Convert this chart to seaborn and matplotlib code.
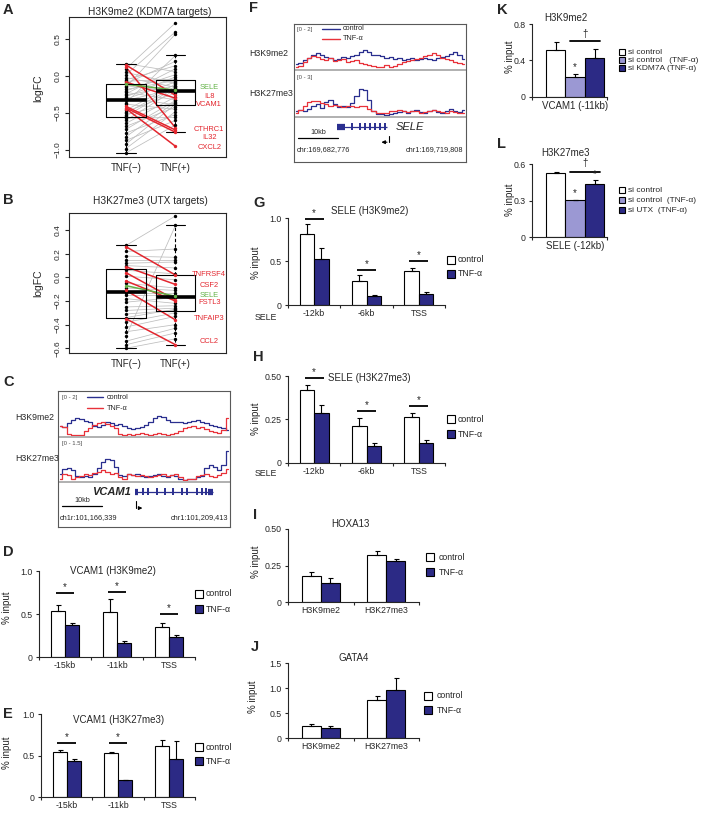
import numpy as np
import pandas as pd
import matplotlib.pyplot as plt
import matplotlib.patches as mpatches
from matplotlib.lines import Line2D
import seaborn as sns

sns.set_style("ticks")
plt.rcParams["font.family"] = ["Liberation Sans", "DejaVu Sans"]
plt.rcParams["axes.linewidth"] = 0.8

# ---------------- data ----------------
# A: H3K9me2 logFC of KDM7A targets, paired TNF(-) -> TNF(+)
a_gray_minus = [0.17, 0.10, 0.05, 0.02, -0.02, -0.05, -0.07, -0.10, -0.13, -0.15, -0.18, -0.20,
                -0.22, -0.24, -0.26, -0.28, -0.29, -0.31, -0.33, -0.36, -0.38, -0.46, -0.48, -0.50,
                -0.52, -0.54, -0.57, -0.60, -0.64, -0.68, -0.72, -0.77, -0.82, -0.87, -0.92, -0.98, -1.04]
a_gray_plus = [0.06, 0.72, -0.10, 0.60, -0.15, 0.14, -0.04, 0.20, -0.21, 0.57, -0.06, 0.02,
               -0.32, 0.10, -0.13, -0.01, -0.39, -0.08, -0.17, 0.28, -0.45, -0.11, -0.23, -0.14,
               -0.36, -0.16, -0.56, -0.18, -0.28, -0.42, -0.33, -0.52, -0.35, -0.60, -0.38, -0.48, -0.66]
a_red_minus = [0.15, 0.12, -0.08, -0.41, -0.43, -0.44]
a_red_plus = [-0.26, -0.70, -0.30, -0.73, -0.76, -0.95]
a_green_minus = [-0.11]
a_green_plus = [-0.19]
a_labels = ["SELE", "IL8", "VCAM1", "CTHRC1", "IL32", "CXCL2"]
a_label_y = [-0.16, -0.27, -0.39, -0.72, -0.83, -0.96]
a_label_kind = ["green", "red", "red", "red", "red", "red"]

# B: H3K27me3 logFC of UTX targets
b_gray_minus = [0.27, 0.22, 0.18, 0.15, 0.12, 0.10, 0.06, 0.01, -0.05, -0.09, -0.13, -0.15, -0.18,
                -0.21, -0.25, -0.28, -0.31, -0.34, -0.38, -0.42, -0.46, -0.50, -0.54, -0.57, -0.60]
b_gray_plus = [0.52, 0.24, 0.17, 0.15, 0.13, 0.08, 0.03, -0.02, -0.09, -0.11, -0.13, -0.15, -0.22,
               -0.17, -0.24, -0.26, -0.28, -0.27, -0.30, -0.33, -0.40, 0.44, -0.43, -0.47, -0.52]
b_red_minus = [0.26, 0.09, 0.04, -0.03, -0.11, -0.35]
b_red_plus = [0.02, -0.06, -0.19, -0.20, -0.36, -0.57]
b_green_minus = [-0.07]
b_green_plus = [-0.16]
b_labels = ["TNFRSF4", "CSF2", "SELE", "FSTL3", "TNFAIP3", "CCL2"]
b_label_y = [0.025, -0.07, -0.15, -0.215, -0.35, -0.545]
b_label_kind = ["red", "red", "green", "red", "red", "red"]

# C: genome browser, VCAM1 locus (40 bins)
c_k9_ctrl = [0.55, 0.5, 0.7, 0.9, 1.0, 0.95, 0.85, 0.75, 0.55, 0.5, 0.6, 0.75, 0.7, 0.6, 0.65, 0.55,
             0.45, 0.4, 0.45, 0.5, 0.6, 0.75, 1.0, 1.1, 1.05, 0.9, 0.8, 0.75, 0.8, 0.7, 0.75, 0.85,
             0.9, 0.8, 0.7, 0.6, 0.55, 0.5, 0.45, 0.35]
c_k9_tnf = [0.55, 0.5, 0.1, 0.06, 0.05, 0.08, 0.3, 0.45, 0.6, 0.7, 0.75, 0.65, 0.55, 0.45, 0.1, 0.06,
            0.12, 0.08, 0.1, 0.15, 0.1, 0.05, 0.12, 0.18, 0.12, 0.08, 0.1, 0.15, 0.3, 0.45, 0.5, 0.55,
            0.45, 0.5, 0.4, 0.3, 0.2, 0.15, 0.35, 1.0]
c_k27_ctrl = [0.3, 0.5, 0.55, 0.45, 0.2, 0.15, 0.2, 0.15, 0.3, 0.55, 0.8, 0.95, 0.9, 0.6, 0.25, 0.2,
              0.3, 0.25, 0.3, 0.2, 0.15, 0.2, 0.25, 0.3, 0.2, 0.15, 0.25, 0.2, 0.1, 0.05, 0.08, 0.1,
              0.15, 0.2, 0.55, 0.7, 0.6, 0.45, 0.7, 1.3]
c_k27_tnf = [0.1, 0.3, 0.25, 0.1, 0.15, 0.2, 0.3, 0.25, 0.35, 0.4, 0.45, 0.4, 0.3, 0.35, 0.15, 0.1,
             0.3, 0.25, 0.2, 0.25, 0.2, 0.15, 0.2, 0.25, 0.3, 0.2, 0.25, 0.3, 0.15, 0.05, 0.08, 0.1,
             0.2, 0.25, 0.3, 0.2, 0.15, 0.25, 0.35, 0.5]
vcam1_span_kb = (19.25, 38.75)
vcam1_blocks_kb = [(19.25, 20.0), (37.6, 38.75)]
vcam1_exons_kb = [21.2, 22.5, 24.8, 26.8, 28.8, 31.0, 32.3, 34.8, 36.0, 37.0]

# F: genome browser, SELE locus
f_k9_ctrl = [0.3, 0.35, 0.5, 0.6, 0.75, 0.9, 0.8, 0.65, 0.6, 0.5, 0.55, 0.65, 0.6, 0.7, 0.8, 0.95,
             1.05, 0.95, 0.8, 0.75, 0.7, 0.6, 0.65, 0.55, 0.6, 0.5, 0.55, 0.6, 0.5, 0.55, 0.6, 0.55,
             0.5, 0.6, 0.65, 0.7, 0.85, 0.95, 0.8, 0.55]
f_k9_tnf = [0.1, 0.15, 0.4, 0.6, 0.7, 0.65, 0.55, 0.5, 0.6, 0.45, 0.5, 0.55, 0.4, 0.45, 0.5, 0.35,
            0.3, 0.2, 0.15, 0.1, 0.12, 0.2, 0.1, 0.15, 0.3, 0.4, 0.45, 0.5, 0.55, 0.6, 0.7, 0.8,
            0.9, 0.75, 0.6, 0.55, 0.5, 0.4, 0.35, 0.3]
f_k27_ctrl = [0.4, 0.5, 0.45, 0.6, 0.9, 1.0, 0.7, 1.2, 1.35, 1.0, 0.8, 0.9, 0.75, 1.1, 1.7, 2.3,
              2.2, 1.4, 0.4, 0.2, 0.15, 0.1, 0.2, 0.3, 0.35, 0.4, 0.3, 0.45, 0.5, 0.35, 0.3, 0.4,
              0.5, 0.35, 0.3, 0.45, 0.6, 0.4, 0.35, 0.5]
f_k27_tnf = [0.3, 0.5, 0.9, 1.2, 1.3, 1.25, 1.1, 1.0, 0.9, 0.95, 0.85, 0.8, 0.9, 0.85, 0.8, 0.9,
             0.85, 0.6, 0.4, 0.3, 0.25, 0.3, 0.4, 0.45, 0.5, 0.4, 0.35, 0.45, 0.4, 0.3, 0.35, 0.45,
             0.5, 0.4, 0.35, 0.3, 0.4, 0.35, 0.3, 0.25]
sele_span_kb = (9.25, 20.0)
sele_blocks_kb = [(9.25, 11.0)]
sele_exons_kb = [12.5, 14.2, 15.3, 16.3, 17.4, 18.5, 19.6]

# D/E: VCAM1 ChIP-qPCR
vcam_sites = ["-15kb", "-11kb", "TSS"]
d_ctrl, d_ctrl_err = [0.53, 0.52, 0.35], [0.08, 0.16, 0.04]
d_tnf, d_tnf_err = [0.37, 0.16, 0.23], [0.03, 0.03, 0.03]
e_ctrl, e_ctrl_err = [0.54, 0.53, 0.61], [0.03, 0.01, 0.08]
e_tnf, e_tnf_err = [0.43, 0.20, 0.46], [0.03, 0.0, 0.21]

# G/H: SELE ChIP-qPCR
sele_sites = ["-12kb", "-6kb", "TSS"]
g_ctrl, g_ctrl_err = [0.82, 0.28, 0.39], [0.11, 0.06, 0.03]
g_tnf, g_tnf_err = [0.53, 0.10, 0.13], [0.12, 0.015, 0.02]
h_ctrl, h_ctrl_err = [0.417, 0.214, 0.265], [0.03, 0.045, 0.025]
h_tnf, h_tnf_err = [0.29, 0.098, 0.117], [0.045, 0.015, 0.013]

# I/J: control loci
marks = ["H3K9me2", "H3K27me3"]
i_ctrl, i_ctrl_err = [0.176, 0.324], [0.03, 0.027]
i_tnf, i_tnf_err = [0.13, 0.284], [0.035, 0.01]
j_ctrl, j_ctrl_err = [0.233, 0.753], [0.05, 0.09]
j_tnf, j_tnf_err = [0.20, 0.967], [0.05, 0.23]

# K/L: knockdown
k_groups = ["si control", "si control   (TNF-α)", "si KDM7A (TNF-α)"]
k_vals, k_errs = [0.514, 0.214, 0.425], [0.09, 0.036, 0.10]
l_groups = ["si control", "si control  (TNF-α)", "si UTX  (TNF-α)"]
l_vals, l_errs = [0.523, 0.303, 0.432], [0.01, 0.005, 0.035]

# ---------------- style ----------------
W, H = 708, 813
NAVY = "#2c2a85"
LIGHT = "#9b98d3"
RED = "#e3262e"
GREEN = "#62b146"
TBLUE = "#2a2f8f"
TRED = "#e8323a"
KIND_COL = {"red": RED, "green": GREEN}

fig = plt.figure(figsize=(W / 100, H / 100), dpi=100)


def px(l, t, r, b):
    return [l / W, 1 - b / H, (r - l) / W, (b - t) / H]


def ftext(x, y, s, **kw):
    kw.setdefault("va", "center")
    kw.setdefault("ha", "left")
    fig.text(x / W, 1 - y / H, s, **kw)


def fline(x1, x2, y, color, lw=1.0):
    fig.add_artist(Line2D([x1 / W, x2 / W], [1 - y / H, 1 - y / H], color=color, lw=lw))


def legend_boxes(xc, ys, labels, colors, size, tx, fs=6.3):
    for y, lab, c in zip(ys, labels, colors):
        fig.add_artist(mpatches.Rectangle(((xc - size / 2) / W, 1 - (y + size / 2) / H), size / W, size / H,
                                          transform=fig.transFigure, facecolor=c, edgecolor="black", lw=0.8))
        ftext(tx, y, lab, fontsize=fs)


# panel letters
for lab, x, y in [("A", 3, 10), ("B", 3, 200), ("C", 3, 382), ("D", 3, 552), ("E", 3, 714),
                  ("F", 249, 8), ("G", 253, 203), ("H", 253, 357), ("I", 253, 515), ("J", 251, 647),
                  ("K", 497, 10), ("L", 497, 144)]:
    ftext(x, y, lab, fontsize=10.5, fontweight="bold")


# ---------------- A / B ----------------
def paired_panel(box, gm, gp, rm, rp, gnm, gnp, ylim, yticks, labels, label_y, kinds):
    ax = fig.add_axes(px(*box))
    rows = []
    for grp, mins, plus in (("gray", gm, gp), ("red", rm, rp), ("green", gnm, gnp)):
        for k, (m, p) in enumerate(zip(mins, plus)):
            rows.append((f"{grp}{k}", grp, "TNF(−)", 0, m))
            rows.append((f"{grp}{k}", grp, "TNF(+)", 1, p))
    df = pd.DataFrame(rows, columns=["gene", "group", "cond", "pos", "logFC"])
    sns.boxplot(data=df, x="cond", y="logFC", order=["TNF(−)", "TNF(+)"], fill=False, color="black",
                linecolor="black", linewidth=0.8, width=0.8, showfliers=False,
                medianprops=dict(linewidth=2.6), whiskerprops=dict(linestyle=(0, (3, 2))),
                zorder=3, ax=ax)
    for grp, col, lw in (("gray", "#bdbdbd", 0.55), ("red", RED, 1.1), ("green", GREEN, 1.1)):
        sns.lineplot(data=df[df.group == grp], x="pos", y="logFC", units="gene", estimator=None,
                     color=col, linewidth=lw, zorder=2, legend=False, ax=ax)
    for grp, col in (("gray", "black"), ("red", RED), ("green", GREEN)):
        sns.scatterplot(data=df[df.group == grp], x="pos", y="logFC", color=col, s=6, linewidth=0,
                        zorder=4, legend=False, ax=ax)
    for name, y, kind in zip(labels, label_y, kinds):
        ax.text(1.68, y, name, color=KIND_COL[kind], ha="center", va="center", fontsize=5.4)
    ax.set_xlim(-1.15, 2.02)
    ax.set_ylim(*ylim)
    ax.set_yticks(yticks, labels=[f"{v:.1f}".replace("-", "−") for v in yticks])
    for t in ax.get_yticklabels():
        t.set_rotation(90)
        t.set_va("center")
    ax.tick_params(axis="y", length=3, width=0.8, labelsize=6, pad=2)
    ax.tick_params(axis="x", length=0, labelsize=7, pad=4)
    ax.set_xlabel("")
    ax.set_ylabel("")
    return ax


paired_panel((69, 17, 226, 157), a_gray_minus, a_gray_plus, a_red_minus, a_red_plus,
             a_green_minus, a_green_plus, (-1.095, 0.80), [-1.0, -0.5, 0.0, 0.5],
             a_labels, a_label_y, a_label_kind)
ftext(150, 12, "H3K9me2 (KDM7A targets)", fontsize=7.3, ha="center")
ftext(38, 88, "logFC", fontsize=7.5, rotation=90, ha="center")

paired_panel((69, 213, 226, 353), b_gray_minus, b_gray_plus, b_red_minus, b_red_plus,
             b_green_minus, b_green_plus, (-0.64, 0.545), [-0.6, -0.4, -0.2, 0.0, 0.2, 0.4],
             b_labels, b_label_y, b_label_kind)
ftext(150, 201, "H3K27me3 (UTX targets)", fontsize=7.3, ha="center")
ftext(38, 283, "logFC", fontsize=7.5, rotation=90, ha="center")


# ---------------- C / F browser ----------------
def track(box, ctrl, tnf, ymax):
    ax = fig.add_axes(px(*box))
    pos = np.arange(len(ctrl))
    sns.lineplot(x=pos, y=ctrl, color=TBLUE, linewidth=0.9, drawstyle="steps-mid", ax=ax)
    sns.lineplot(x=pos, y=tnf, color=TRED, linewidth=0.9, drawstyle="steps-mid", ax=ax)
    ax.set_xlim(-0.5, len(ctrl) - 0.5)
    ax.set_ylim(0, ymax)
    ax.axis("off")


def browser(frame, seps, tr1, tr2, scales, gene_box, total_kb, gene_span, blocks, exons):
    l, t, r, b = frame
    axf = fig.add_axes(px(*frame))
    axf.set_xticks([])
    axf.set_yticks([])
    axf.patch.set_alpha(0)
    for s in axf.spines.values():
        s.set_color("0.35")
        s.set_linewidth(0.8)
    for sy in seps:
        axf.axhline((b - sy) / (b - t), color="#b0b0b0", lw=1.4)
    axf.set_ylim(0, 1)
    track(tr1[0], tr1[1], tr1[2], scales[0])
    track(tr2[0], tr2[1], tr2[2], scales[1])
    axg = fig.add_axes(px(*gene_box))
    axg.set_xlim(0, total_kb)
    axg.set_ylim(0, 1)
    axg.axis("off")
    axg.hlines(0.8, *gene_span, color=TBLUE, lw=0.9)
    for x0, x1 in blocks:
        axg.hlines(0.8, x0, x1, color=TBLUE, lw=4.5)
    axg.vlines(exons, 0.72, 0.88, color=TBLUE, lw=1.4)
    return axg


# C
axg = browser((58, 391, 230, 527), [437, 482],
              ((58, 400, 230, 436), c_k9_ctrl, c_k9_tnf), ((58, 446, 230, 481), c_k27_ctrl, c_k27_tnf),
              (2.0, 1.5), (58, 483, 230, 527), 43, vcam1_span_kb, vcam1_blocks_kb, vcam1_exons_kb)
axg.plot([19.5, 19.5], [0.6, 0.43], color="black", lw=0.8)
axg.annotate("", xy=(21.8, 0.43), xytext=(19.4, 0.43),
             arrowprops=dict(arrowstyle="-|>", lw=0.8, color="black", mutation_scale=5))
axg.plot([0.023, 0.256], [0.48, 0.48], color="black", lw=0.9, transform=axg.transAxes)
ftext(15, 417, "H3K9me2", fontsize=6.3)
ftext(15, 458, "H3K27me3", fontsize=6.3)
ftext(62, 397, "[0 - 2]", fontsize=4.3, color="0.3")
ftext(62, 443, "[0 - 1.5]", fontsize=4.3, color="0.3")
fline(87, 103, 397, TBLUE)
fline(87, 103, 408, TRED)
ftext(107, 397, "control", fontsize=5.2)
ftext(107, 408, "TNF-α", fontsize=5.2)
ftext(131, 492, "VCAM1", fontsize=8, style="italic", fontweight="bold", ha="right")
ftext(82, 500, "10kb", fontsize=5.2, ha="center")
ftext(60, 518, "ch1r:101,166,339", fontsize=5.3)
ftext(228, 518, "chr1:101,209,413", fontsize=5.3, ha="right")

# F
axg = browser((294, 24, 466, 162), [70, 117],
              ((294, 33, 466, 69), f_k9_ctrl, f_k9_tnf), ((294, 81, 466, 116), f_k27_ctrl, f_k27_tnf),
              (2.0, 3.0), (294, 118, 466, 162), 37, sele_span_kb, sele_blocks_kb, sele_exons_kb)
axg.plot([20.5, 20.5], [0.6, 0.45], color="black", lw=0.8)
axg.annotate("", xy=(18.2, 0.45), xytext=(20.6, 0.45),
             arrowprops=dict(arrowstyle="-|>", lw=0.8, color="black", mutation_scale=5))
axg.plot([0.023, 0.256], [0.545, 0.545], color="black", lw=0.9, transform=axg.transAxes)
ftext(249, 53, "H3K9me2", fontsize=6.3)
ftext(249, 93, "H3K27me3", fontsize=6.3)
ftext(297, 29, "[0 - 2]", fontsize=4.3, color="0.3")
ftext(297, 77, "[0 - 3]", fontsize=4.3, color="0.3")
fline(322, 340, 29, TBLUE)
fline(322, 340, 39, TRED)
ftext(343, 29, "control", fontsize=5.2)
ftext(343, 39, "TNF-α", fontsize=5.2)
ftext(396, 127, "SELE", fontsize=8, style="italic")
ftext(318, 133, "10kb", fontsize=5.2, ha="center")
ftext(297, 150, "chr:169,682,776", fontsize=5.3)
ftext(463, 150, "chr1:169,719,808", fontsize=5.3, ha="right")


# ---------------- bar charts ----------------
def add_err(ax, err_lists):
    for cont, errs in zip(ax.containers, err_lists):
        xs = [bar.get_x() + bar.get_width() / 2 for bar in cont]
        ys = [bar.get_height() for bar in cont]
        ax.errorbar(xs, ys, yerr=[np.zeros(len(errs)), errs], fmt="none", ecolor="black",
                    elinewidth=0.8, capsize=1.8, capthick=0.8, zorder=3)


def style_axes(ax, xlim, ylim, yticks, yticklabels, fs=6.3):
    ax.set_xlim(*xlim)
    ax.set_ylim(*ylim)
    ax.set_yticks(yticks, labels=yticklabels)
    ax.tick_params(axis="x", which="major", length=0, labelsize=fs, pad=3)
    ax.tick_params(axis="x", which="minor", length=2.5, width=0.8, direction="out")
    ax.tick_params(axis="y", length=2.5, width=0.8, labelsize=fs, pad=2)
    sns.despine(ax=ax)
    ax.set_xlabel("")
    ax.set_ylabel("")
    ax.patch.set_alpha(0)


def star(ax, x, y, fs=7):
    ax.annotate("*", (x, y), xytext=(0, 0.5), textcoords="offset points", ha="center", va="bottom",
                fontsize=fs)


def bar_panel(box, cats, ctrl, ctrl_err, tnf, tnf_err, ylim, yticks, yticklabels, sig_y, width=0.55):
    ax = fig.add_axes(px(*box))
    n = len(cats)
    df = pd.DataFrame({"site": cats * 2, "cond": ["control"] * n + ["TNF-α"] * n, "value": ctrl + tnf})
    sns.barplot(data=df, x="site", y="value", hue="cond", palette=["white", NAVY], saturation=1,
                edgecolor="black", linewidth=0.8, width=width, errorbar=None, legend=False, ax=ax)
    add_err(ax, [ctrl_err, tnf_err])
    ax.set_xticks(np.arange(n + 1) - 0.5, minor=True)
    style_axes(ax, (-0.5, n - 0.5), ylim, yticks, yticklabels)
    for i, y in enumerate(sig_y):
        if y is None:
            continue
        ax.plot([i - 0.18, i + 0.18], [y, y], color="black", lw=1.3, solid_capstyle="butt")
        star(ax, i, y)
    return ax


# D
bar_panel((39, 571, 195, 657), vcam_sites, d_ctrl, d_ctrl_err, d_tnf, d_tnf_err, (0, 1.0),
          [0, 0.5, 1.0], ["0", "0.5", "1.0"], [0.745, 0.756, 0.50])
ftext(113, 571, "VCAM1 (H3K9me2)", fontsize=7, ha="center")
ftext(7, 608, "% input", fontsize=7, rotation=90, ha="center")
legend_boxes(199, [594, 609], ["control", "TNF-α"], ["white", NAVY], 8, 206)

# E
bar_panel((41, 714, 195, 797), vcam_sites, e_ctrl, e_ctrl_err, e_tnf, e_tnf_err, (0, 1.0),
          [0, 0.5, 1.0], ["0", "0.5", "1.0"], [0.65, 0.65, None])
ftext(119, 720, "VCAM1 (H3K27me3)", fontsize=7, ha="center")
ftext(7, 753, "% input", fontsize=7, rotation=90, ha="center")
legend_boxes(199, [747, 761], ["control", "TNF-α"], ["white", NAVY], 8, 206)

# G
bar_panel((288, 218, 445, 305), sele_sites, g_ctrl, g_ctrl_err, g_tnf, g_tnf_err, (0, 1.0),
          [0, 0.5, 1.0], ["0", "0.5", "1.0"], [0.99, 0.40, 0.506])
ftext(370, 211, "SELE (H3K9me2)", fontsize=7, ha="center")
ftext(256, 263, "% input", fontsize=7, rotation=90, ha="center")
ftext(266, 317, "SELE", fontsize=6.3, ha="center")
legend_boxes(451, [260, 274], ["control", "TNF-α"], ["white", NAVY], 8, 458)

# H
bar_panel((288, 376, 445, 463), sele_sites, h_ctrl, h_ctrl_err, h_tnf, h_tnf_err, (0, 0.5),
          [0, 0.25, 0.5], ["0", "0.25", "0.50"], [0.489, 0.30, 0.33])
ftext(369, 378, "SELE (H3K27me3)", fontsize=7, ha="center")
ftext(256, 419, "% input", fontsize=7, rotation=90, ha="center")
ftext(266, 473, "SELE", fontsize=6.3, ha="center")
legend_boxes(451, [419, 434], ["control", "TNF-α"], ["white", NAVY], 8, 458)

# I
bar_panel((288, 529, 419, 602), marks, i_ctrl, i_ctrl_err, i_tnf, i_tnf_err, (0, 0.5),
          [0, 0.25, 0.5], ["0", "0.25", "0.50"], [], width=0.58)
ftext(350, 524, "HOXA13", fontsize=7, ha="center")
ftext(256, 562, "% input", fontsize=7, rotation=90, ha="center")
legend_boxes(430, [557, 572], ["control", "TNF-α"], ["white", NAVY], 8, 439)

# J
bar_panel((288, 663, 419, 738), marks, j_ctrl, j_ctrl_err, j_tnf, j_tnf_err, (0, 1.5),
          [0, 0.5, 1.0, 1.5], ["0", "0.5", "1.0", "1.5"], [], width=0.58)
ftext(354, 658, "GATA4", fontsize=7, ha="center")
ftext(253, 697, "% input", fontsize=7, rotation=90, ha="center")
legend_boxes(428, [696, 710], ["control", "TNF-α"], ["white", NAVY], 8, 437)


# K / L
def si_panel(box, cat, groups, vals, errs, ylim, yticks, yticklabels):
    ax = fig.add_axes(px(*box))
    df = pd.DataFrame({"site": [cat] * len(groups), "cond": groups, "value": vals})
    sns.barplot(data=df, x="site", y="value", hue="cond", palette=["white", LIGHT, NAVY], saturation=1,
                edgecolor="black", linewidth=0.8, width=0.78, errorbar=None, legend=False, ax=ax)
    add_err(ax, [[e] for e in errs])
    ax.set_xticks([-0.575, 0.425], minor=True)
    style_axes(ax, (-0.575, 0.425), ylim, yticks, yticklabels)
    ax.tick_params(axis="x", which="major", labelsize=7)
    return ax


ax = si_panel((532, 24, 607, 97), "VCAM1 (-11kb)", k_groups, k_vals, k_errs, (0, 0.8),
              [0, 0.4, 0.8], ["0", "0.4", "0.8"])
ax.plot([-0.07, 0.33], [0.614, 0.614], color="black", lw=1.3)
ax.text(0.13, 0.69, "†", ha="center", va="center", fontsize=7)
star(ax, 0.0, 0.265)
ftext(566, 18, "H3K9me2", fontsize=7, ha="center")
ftext(510, 57, "% input", fontsize=7, rotation=90, ha="center")
legend_boxes(622, [52, 60, 68], k_groups, ["white", LIGHT, NAVY], 6, 628, fs=6)

ax = si_panel((532, 164, 607, 237), "SELE (-12kb)", l_groups, l_vals, l_errs, (0, 0.6),
              [0, 0.3, 0.6], ["0", "0.3", "0.6"])
ax.plot([-0.07, 0.33], [0.534, 0.534], color="black", lw=1.3)
ax.text(0.13, 0.61, "†", ha="center", va="center", fontsize=7)
star(ax, 0.0, 0.315)
star(ax, 0.26, 0.472)
ftext(566, 153, "H3K27me3", fontsize=7, ha="center")
ftext(510, 200, "% input", fontsize=7, rotation=90, ha="center")
legend_boxes(622, [190, 200, 210], l_groups, ["white", LIGHT, NAVY], 6, 628, fs=6)

fig.savefig("out.png", dpi=100)
